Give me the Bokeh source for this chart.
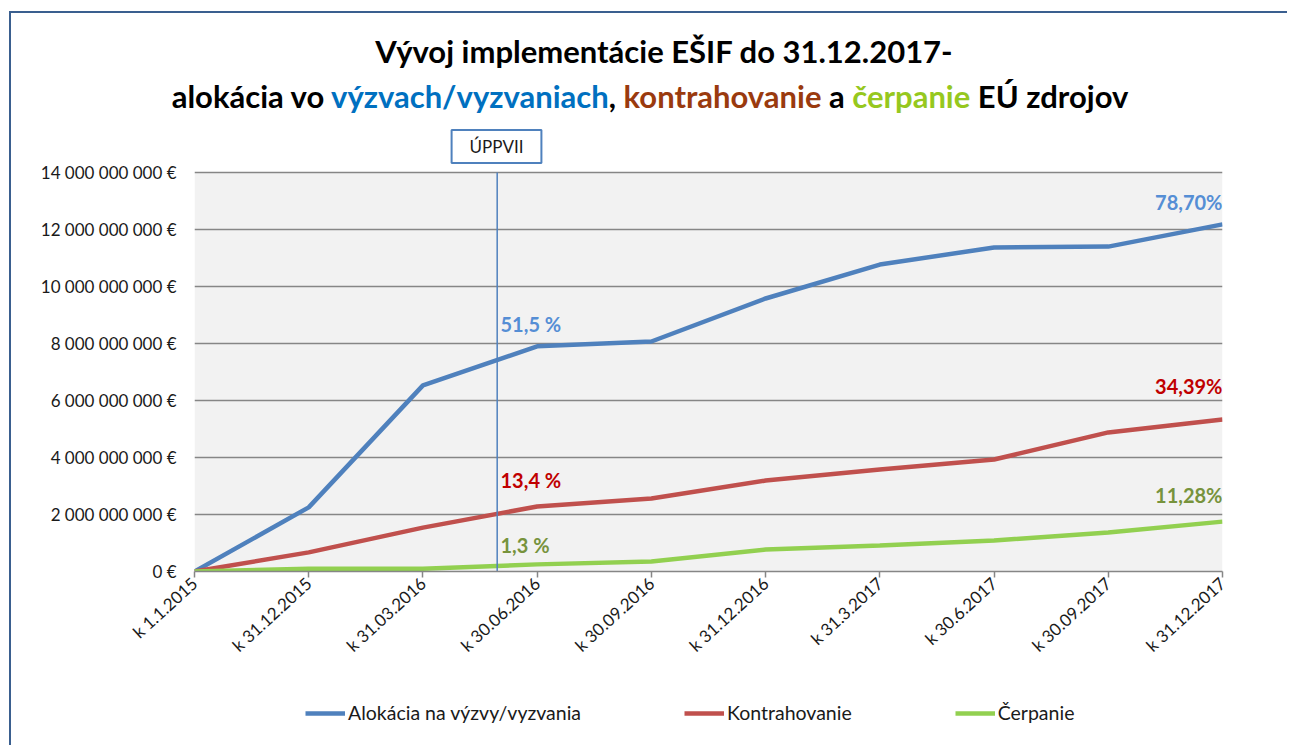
from bokeh.plotting import figure
from bokeh.models import (Range1d, FixedTicker, Label, Legend, LegendItem, Div)
from bokeh.layouts import column
from bokeh.embed import file_html
from bokeh.resources import INLINE

# ---- data ----
categories = ["k 1.1.2015", "k 31.12.2015", "k 31.03.2016", "k 30.06.2016",
              "k 30.09.2016", "k 31.12.2016", "k 31.3.2017", "k 30.6.2017",
              "k 30.09.2017", "k 31.12.2017"]
alokacia = [0, 2.25e9, 6.53e9, 7.90e9, 8.07e9, 9.58e9, 10.77e9, 11.37e9, 11.40e9, 12.18e9]
kontrahovanie = [0, 0.67e9, 1.54e9, 2.28e9, 2.56e9, 3.19e9, 3.58e9, 3.93e9, 4.88e9, 5.33e9]
cerpanie = [0, 0.10e9, 0.10e9, 0.25e9, 0.35e9, 0.77e9, 0.91e9, 1.09e9, 1.37e9, 1.75e9]
y_ticks = [0, 2e9, 4e9, 6e9, 8e9, 10e9, 12e9, 14e9]
y_tick_labels = ["0 €", "2 000 000 000 €", "4 000 000 000 €", "6 000 000 000 €",
                 "8 000 000 000 €", "10 000 000 000 €", "12 000 000 000 €", "14 000 000 000 €"]
uppvii_x = 2.65
pct_labels_mid = ["51,5 %", "13,4 %", "1,3 %"]
pct_labels_end = ["78,70%", "34,39%", "11,28%"]
series_names = ["Alokácia na výzvy/vyzvania", "Kontrahovanie", "Čerpanie"]

FONT = "Lato"
BLUE, RED, GREEN = "#4F81BD", "#C0504D", "#92D050"
FRAME_COL = "#3A5F8F"

# page geometry (reference pixels): plot area x 194..1222, y 172..571
OX, OY = 11, 13            # content origin after margin + border
DIV_H = 110
FIG_TOP = OY + DIV_H       # 123
FIG_W = 1276
CH_H = 548                 # chart height -> bottom at 671
LEG_TOP = FIG_TOP + CH_H
LEG_H = 74

def sx(px):
    return (px - 194) / (1028 / 9)

def sy(py):
    return (571 - py) * 14e9 / 399

# ---- title (HTML, multi-coloured) ----
title_html = (
    '<div style="font-family:Lato, sans-serif;font-weight:bold;font-size:31px;'
    'line-height:45px;padding-top:16px;color:black;text-align:center;width:%dpx;">'
    '<div style="padding-left:30px;">Vývoj implementácie EŠIF do 31.12.2017-</div>'
    '<div style="padding-left:2px;">alokácia vo <span style="color:#0070C0;">výzvach/vyzvaniach</span>, '
    '<span style="color:#9A3A0E;">kontrahovanie</span> a '
    '<span style="color:#96C81E;">čerpanie</span> EÚ zdrojov</div></div>' % FIG_W)
div = Div(text=title_html, width=FIG_W, height=DIV_H, margin=0)

# ---- chart ----
p = figure(width=FIG_W, height=CH_H, output_backend="svg", toolbar_location=None,
           x_range=Range1d(0, 9), y_range=Range1d(0, sy(FIG_TOP)),
           min_border_left=194 - OX, min_border_top=0,
           min_border_right=OX + FIG_W - 1222,
           min_border_bottom=LEG_TOP - 571)
p.background_fill_color = "white"
p.border_fill_color = "white"
p.outline_line_color = None

# plot-area background
p.quad(left=[0], right=[9], bottom=[y_ticks[0]], top=[y_ticks[-1]],
       fill_color="#F2F2F2", line_color=None, level="image")

x = list(range(len(categories)))
r1 = p.line(x, alokacia, line_color=BLUE, line_width=4.5)
r2 = p.line(x, kontrahovanie, line_color=RED, line_width=4.5)
r3 = p.line(x, cerpanie, line_color=GREEN, line_width=4.5)

# axes
p.xaxis.ticker = FixedTicker(ticks=x)
p.xaxis.major_label_overrides = {i: c for i, c in zip(x, categories)}
p.xaxis.major_label_orientation = 0.74
p.xaxis.major_label_text_font = FONT
p.xaxis.major_label_text_font_size = "17px"
p.xaxis.major_label_text_color = "#1a1a1a"
p.xaxis.axis_line_color = "#868686"
p.xaxis.axis_line_width = 1.5
p.xaxis.major_tick_line_color = "#868686"
p.xaxis.major_tick_line_width = 1.5
p.xaxis.major_tick_out = 6
p.xaxis.major_tick_in = 0
p.xaxis.minor_tick_line_color = None
p.xaxis.major_label_standoff = 3

p.yaxis.ticker = FixedTicker(ticks=y_ticks)
p.yaxis.major_label_overrides = {t: s for t, s in zip(y_ticks, y_tick_labels)}
p.yaxis.major_label_text_font = FONT
p.yaxis.major_label_text_font_size = "17px"
p.yaxis.major_label_text_color = "#1a1a1a"
p.yaxis.axis_line_color = None
p.yaxis.major_tick_line_color = None
p.yaxis.minor_tick_line_color = None
p.yaxis.major_tick_out = 0
p.yaxis.major_label_standoff = 18

p.xgrid.grid_line_color = None
p.ygrid.grid_line_color = "#868686"
p.ygrid.grid_line_width = 1.5

# vertical marker line + box label
p.segment(x0=[uppvii_x], y0=[y_ticks[0]], x1=[uppvii_x], y1=[y_ticks[-1]],
          line_color=BLUE, line_width=1.5)
p.add_layout(Label(x=uppvii_x - 0.006, y=sy(146), text="ÚPPVII", text_align="center",
                   text_baseline="middle", text_font=FONT, text_font_size="17px",
                   text_color="#1a1a1a", border_line_color=BLUE, border_line_width=2,
                   background_fill_color="white", padding=(18, 6)))

# percentage labels
lab_cols = ["#558ED5", "#C00000", "#77933C"]
mid_y = [sy(323), sy(479), sy(544)]
for t, c, yy in zip(pct_labels_mid, lab_cols, mid_y):
    p.add_layout(Label(x=sx(500), y=yy, text=t, text_align="left", text_baseline="middle",
                       text_font=FONT, text_font_style="bold", text_font_size="20px",
                       text_color=c))
end_y = [sy(201), sy(385), sy(494)]
for t, c, yy in zip(pct_labels_end, lab_cols, end_y):
    p.add_layout(Label(x=9, y=yy, text=t, text_align="right", text_baseline="middle",
                       text_font=FONT, text_font_style="bold", text_font_size="20px",
                       text_color=c))

# ---- legend strip (separate small figure; legend inside its frame) ----
lf = figure(width=FIG_W, height=LEG_H, output_backend="svg", toolbar_location=None,
            x_range=Range1d(0, 1), y_range=Range1d(0, 1),
            x_axis_location=None, y_axis_location=None,
            min_border=0)
lf.grid.visible = False
lf.outline_line_color = None
lf.background_fill_color = "white"
# hidden stand-in renderers (outside the visible range) that only supply legend glyphs
lr = [lf.line([0, 1], [-1, -1], line_color=c, line_width=4.5) for c in (BLUE, RED, GREEN)]
legend = Legend(items=[LegendItem(label=n, renderers=[r]) for n, r in zip(series_names, lr)],
                orientation="horizontal", location=(305 - 194, LEG_TOP + LEG_H - 724),
                spacing=103, padding=0, margin=0, glyph_width=40, glyph_height=20,
                label_height=20, label_standoff=3, label_text_font=FONT,
                label_text_font_size="19.5px", label_text_color="#1a1a1a",
                border_line_color=None, background_fill_alpha=0)
lf.add_layout(legend, "center")

layout = column(div, p, lf, spacing=0)
layout.margin = (OY - 2, 0, 0, OX - 2)
layout.styles = {"border-left": "2px solid " + FRAME_COL, "border-top": "2px solid " + FRAME_COL}

open("out.html", "w").write(file_html(layout, INLINE))
